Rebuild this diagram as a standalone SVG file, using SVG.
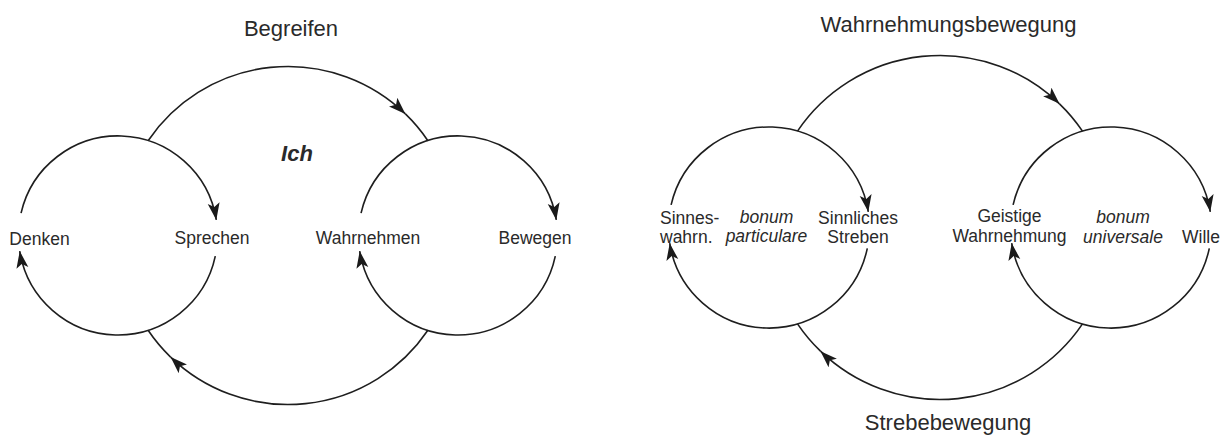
<svg xmlns="http://www.w3.org/2000/svg" width="1228" height="436" viewBox="0 0 1228 436">
  <style>
    .arc { fill: none; stroke: #1e1e1e; stroke-width: 1.6; }
    .arr { marker-end: url(#head); }
    text { font-family: "Liberation Sans", Arial, sans-serif; fill: #2a2a2a; }
    .title { font-size: 22px; text-anchor: middle; }
    .lbl { font-size: 17.5px; text-anchor: middle; }
    .lbl-l { font-size: 17.5px; text-anchor: start; }
    .it { font-style: italic; }
    .ich { font-size: 22px; font-weight: bold; font-style: italic; text-anchor: middle; }
  </style>
  <defs>
    <marker id="head" markerUnits="userSpaceOnUse" viewBox="0 0 17 13" markerWidth="17" markerHeight="13" refX="17" refY="6.5" orient="auto">
      <path d="M0,0.5 L17,6.5 L0,12.5 L4,6.5 Z" fill="#1a1a1a"/>
    </marker>
  </defs>

  <rect width="1228" height="436" fill="#ffffff"/>

  <!-- arcs: left figure (Begreifen) and right figure (Wahrnehmungs-/Strebebewegung) -->
  <g id="connectors">
    <!-- left figure, left cycle -->
    <path class="arc arr" d="M21.05,213.1 A99.5,99.5 0 0 1 216.3,219.9"/>
    <path class="arc arr" d="M215.3,256.2 A99.5,99.5 0 0 1 19.72,251.1"/>
    <!-- left figure, right cycle -->
    <path class="arc arr" d="M361.05,213.1 A99.5,99.5 0 0 1 556.3,219.9"/>
    <path class="arc arr" d="M555.3,256.2 A99.5,99.5 0 0 1 359.7,251.1"/>
    <!-- left figure, outer loop -->
    <path class="arc arr" d="M148.1,140.7 A169,169 0 0 1 405.4,113.9"/>
    <path class="arc" d="M405.4,113.9 A169,169 0 0 1 427.9,140.7"/>
    <path class="arc arr" d="M427.9,330.3 A169,169 0 0 1 170.6,357.1"/>
    <path class="arc" d="M170.6,357.1 A169,169 0 0 1 148.1,330.3"/>

    <!-- right figure, left cycle -->
    <path class="arc arr" d="M671.1,204.9 A100.5,100.5 0 0 1 868.3,211.8"/>
    <path class="arc arr" d="M867.3,248.4 A100.5,100.5 0 0 1 669.7,243.2"/>
    <!-- right figure, right cycle -->
    <path class="arc arr" d="M1013.1,204.9 A100.5,100.5 0 0 1 1210.3,211.8"/>
    <path class="arc arr" d="M1209.3,248.4 A100.5,100.5 0 0 1 1011.7,243.2"/>
    <!-- right figure, outer loop -->
    <path class="arc arr" d="M797.5,131.1 A172,172 0 0 1 1059.5,103.8"/>
    <path class="arc" d="M1059.5,103.8 A172,172 0 0 1 1082.5,131.1"/>
    <path class="arc arr" d="M1082.5,323.9 A172,172 0 0 1 820.5,351.2"/>
    <path class="arc" d="M820.5,351.2 A172,172 0 0 1 797.5,323.9"/>
  </g>

  <!-- left figure labels -->
  <g id="begreifen"><text class="title" x="291" y="36">Begreifen</text></g>
  <g id="ich"><text class="ich" x="297" y="161">Ich</text></g>
  <g id="denken"><text class="lbl" x="39.5" y="245">Denken</text></g>
  <g id="sprechen"><text class="lbl" x="212" y="244">Sprechen</text></g>
  <g id="wahrnehmen"><text class="lbl" x="368" y="244">Wahrnehmen</text></g>
  <g id="bewegen"><text class="lbl" x="535" y="244">Bewegen</text></g>

  <!-- right figure labels -->
  <g id="wahrnehmungsbewegung"><text class="title" x="948.5" y="32">Wahrnehmungsbewegung</text></g>
  <g id="strebebewegung"><text class="title" x="948" y="430">Strebebewegung</text></g>
  <g id="sinneswahrnehmung">
    <text class="lbl-l" x="660" y="224">Sinnes-</text>
    <text class="lbl-l" x="660" y="243">wahrn.</text>
  </g>
  <g id="bonum-particulare">
    <text class="lbl it" x="766.5" y="223">bonum</text>
    <text class="lbl it" x="766.5" y="242">particulare</text>
  </g>
  <g id="sinnliches-streben">
    <text class="lbl" x="858" y="224">Sinnliches</text>
    <text class="lbl" x="858" y="243">Streben</text>
  </g>
  <g id="geistige-wahrnehmung">
    <text class="lbl" x="1009.5" y="222">Geistige</text>
    <text class="lbl" x="1009.5" y="242">Wahrnehmung</text>
  </g>
  <g id="bonum-universale">
    <text class="lbl it" x="1123" y="223">bonum</text>
    <text class="lbl it" x="1123" y="243">universale</text>
  </g>
  <g id="wille"><text class="lbl-l" x="1182" y="243">Wille</text></g>
</svg>
